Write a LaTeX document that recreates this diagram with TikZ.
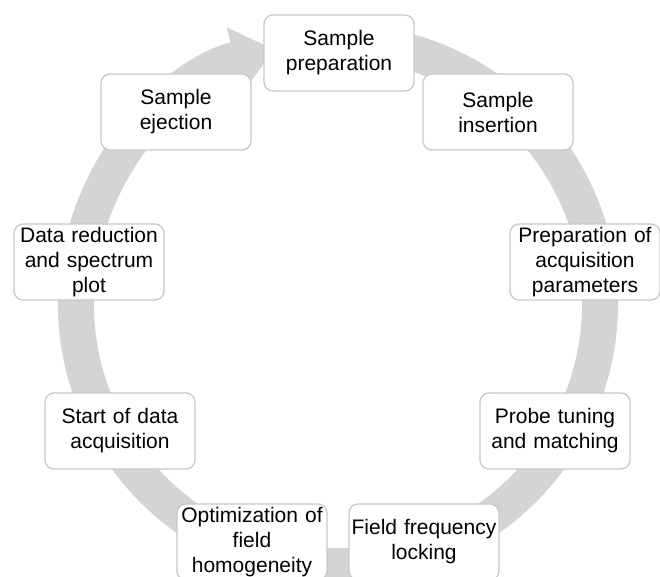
\documentclass[tikz,border=0pt]{standalone}
\usepackage{fontspec}
\setmainfont{Liberation Sans}
\usepackage{xcolor}
\usepackage{tikz}
\usetikzlibrary{arrows.meta}

\definecolor{ringgray}{RGB}{212,212,212}
\definecolor{boxline}{RGB}{200,200,200}

\tikzset{
    stepbox/.style={draw=boxline, line width=1.3pt, fill=white, rounded corners=9pt,
        minimum width=150pt, minimum height=76pt, text width=146pt, inner sep=2pt,
        align=center, font=\fontsize{21}{25}\selectfont},
    ring/.style={draw=ringgray, line width=36pt, -{Triangle[length=41pt,width=64pt]}}
}

\begin{document}
\begin{tikzpicture}[x=1pt, y=1pt]
        \useasboundingbox (0,0) rectangle (660,576);

        \coordinate (hub) at (338,272);

        % the cycle behind the steps
        \draw[ring] (hub) ++(78:262) arc[start angle=78, end angle=-256, radius=262];

        \node[stepbox] (A) at (339,523) {Sample\\preparation};
        \node[stepbox] (B) at (498,464) {Sample\\insertion};
        \node[stepbox] (C) at (585,314) {Preparation of\\acquisition\\parameters};
        \node[stepbox] (D) at (555,145) {Probe tuning\\and matching};
        \node[stepbox] (E) at (424,34)  {Field frequency\\locking};
        \node[stepbox] (F) at (252,34)  {Optimization of\\field\\homogeneity};
        \node[stepbox] (G) at (120,145) {Start of data\\acquisition};
        \node[stepbox] (H) at (89,314)  {Data reduction\\and spectrum\\plot};
        \node[stepbox] (I) at (176,464) {Sample\\ejection};
    \end{tikzpicture}
\end{document}
